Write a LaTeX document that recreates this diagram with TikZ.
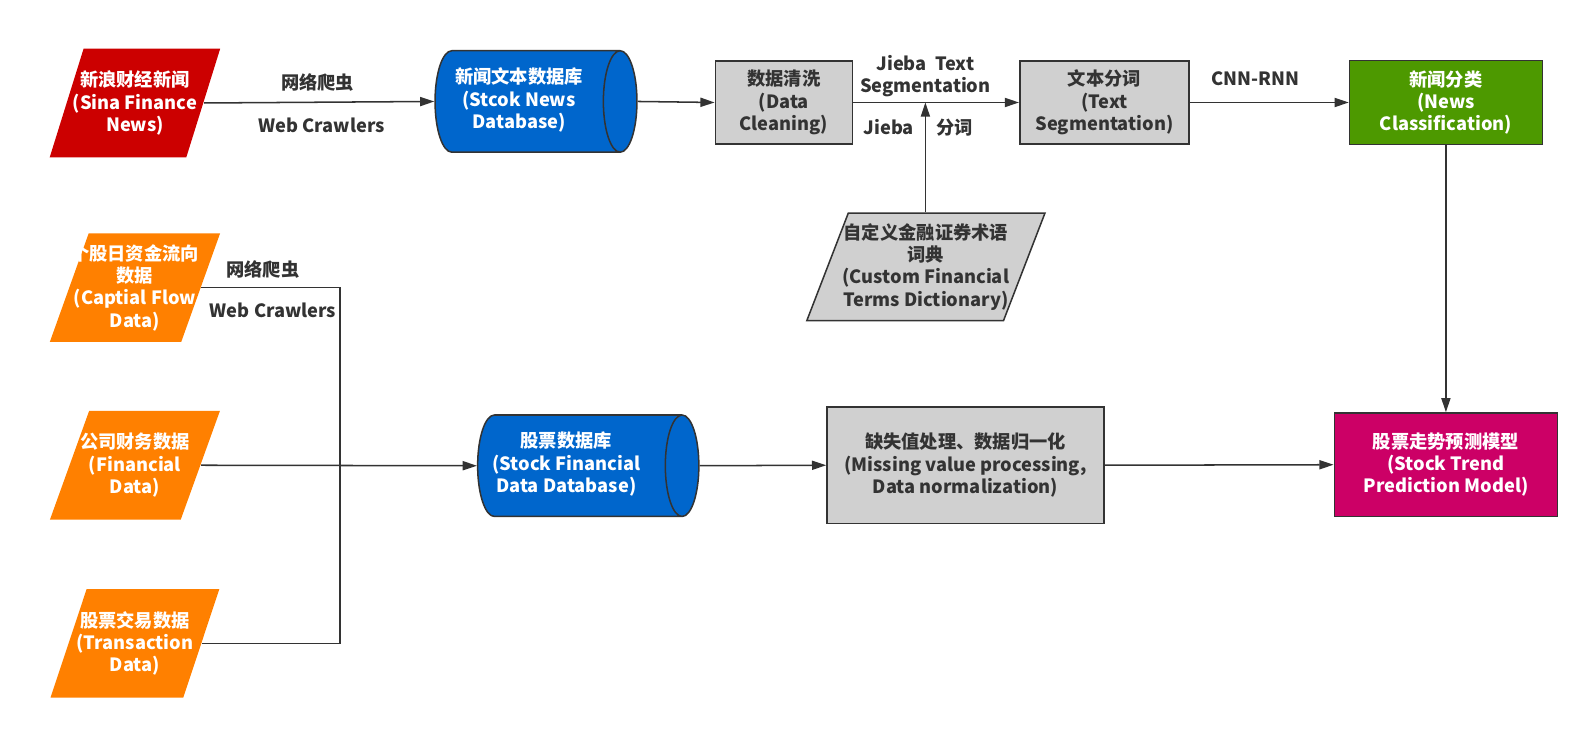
\documentclass[tikz,border=0pt]{standalone}
\usepackage{fontspec}
\setmainfont{Noto Sans CJK SC}
\usetikzlibrary{shapes.geometric,arrows.meta}

\definecolor{sinared}{RGB}{204,0,0}
\definecolor{srcorange}{RGB}{255,128,0}
\definecolor{dbblue}{RGB}{0,102,204}
\definecolor{clsgreen}{RGB}{77,153,0}
\definecolor{modelpink}{RGB}{204,0,102}
\definecolor{boxgray}{RGB}{208,208,208}
\definecolor{linedark}{RGB}{51,51,51}

% database text, set off towards the body's left
\newcommand{\dbtext}[2][20pt]{\makebox[0pt]{\raisebox{-4pt}{\begin{tabular}{@{}c@{}}#2\end{tabular}}\hspace{#1}}}

\tikzset{every picture/.style={line width=1.5pt}}
\tikzset{
  txt/.style={font=\bfseries\fontsize{18}{22}\selectfont, align=center},
  srcpara/.style={txt, trapezium, trapezium left angle=72, trapezium right angle=108,
    trapezium stretches=true, minimum width=168, minimum height=107, inner xsep=-30pt, inner ysep=0pt, text=white},
  dbcyl/.style={txt, cylinder, shape border rotate=0, aspect=0.5, cylinder uses custom fill,
    cylinder body fill=dbblue, cylinder end fill=dbblue, draw=linedark, text=white, inner sep=0pt, anchor=west},
  procbox/.style={txt, rectangle, draw=linedark, fill=boxgray, text=linedark, inner sep=0pt},
  lbl/.style={txt, text=linedark},
  arr/.style={draw=linedark, -{Triangle[length=14pt,width=9pt]}},
  ln/.style={draw=linedark}
}

\begin{document}
\begin{tikzpicture}[x=1pt,y=1pt,yscale=-1]
			\useasboundingbox (0,0) rectangle (1568,720);
			% top row: news
			\node [srcpara, fill=sinared] (sina) at (133,101.5) {新浪财经新闻\\(Sina Finance\\News)};
			\node [dbcyl, minimum width=100, minimum height=199] (newsdb) at (428,100) {\dbtext[16pt]{新闻文本数据库\\(Stcok News\\Database)}};
			\node [procbox, minimum width=135, minimum height=82] (clean) at (772.5,101) {数据清洗\\(Data\\Cleaning)};
			\node [procbox, minimum width=167, minimum height=82] (seg) at (1088.5,101) {文本分词\\(Text\\Segmentation)};
			\node [procbox, fill=clsgreen, text=white, minimum width=190, minimum height=83] (cls) at (1425,101) {新闻分类\\(News\\Classification)};
			\node [srcpara, fill=boxgray, draw=linedark, text=linedark, minimum width=235, minimum height=106] (dict) at (912.5,263) {自定义金融证券术语\\词典\\(Custom Financial\\Terms Dictionary)};
			% bottom rows: stock data
			\node [srcpara, fill=srcorange] (flow) at (133,283.5) {个股日资金流向\\数据\\(Captial Flow\\Data)};
			\node [srcpara, fill=srcorange] (fin) at (133,458.5) {公司财务数据\\(Financial\\Data)};
			\node [srcpara, fill=srcorange] (trans) at (133,634) {股票交易数据\\(Transaction\\Data)};
			\node [dbcyl, minimum width=100, minimum height=218] (stockdb) at (470,459) {\dbtext[26pt]{股票数据库\\(Stock Financial\\Data Database)}};
			\node [procbox, minimum width=273, minimum height=115] (prep) at (951.5,458.5) {缺失值处理、数据归一化\\(Missing value processing,\\Data normalization)};
			\node [procbox, fill=modelpink, text=white, minimum width=220, minimum height=102] (model) at (1425,458) {股票走势预测模型\\(Stock Trend\\Prediction Model)};
			\coordinate (jn) at (335,459);
			\coordinate (segin) at (912,101);
			% connectors
			\draw [arr] (sina.east) -- (newsdb.west);
			\draw [arr] (newsdb.east) -- (clean.west);
			\draw [arr] (clean.east) -- (seg.west);
			\draw [arr] (dict.north -| segin) -- (segin);
			\draw [arr] (seg.east) -- (cls.west);
			\draw [arr] (cls.south) -- (model.north);
			\draw [ln] (flow.east) -| (jn) |- (trans.east);
			\draw [arr] (fin.east) -- (stockdb.west);
			\draw [arr] (stockdb.east) -- (prep.west);
			\draw [arr] (prep.east) -- (model.west);
			% labels
			\node [lbl] (crawlzh) at (313,81) {网络爬虫};
			\node [lbl] (crawlen) at (317,124) {Web Crawlers};
			\node [lbl] (jiebaen) at (912,75) {Jieba\ \ Text\\Segmentation};
			\node [lbl] (jiebazh) at (905,126) {Jieba\hspace{22pt}分词};
			\node [lbl] (cnnrnn) at (1237,78) {CNN-RNN};
			\node [lbl] (crawlzh2) at (259,266) {网络爬虫};
			\node [lbl] (crawlen2) at (269,306) {Web Crawlers};
		\end{tikzpicture}
\end{document}
